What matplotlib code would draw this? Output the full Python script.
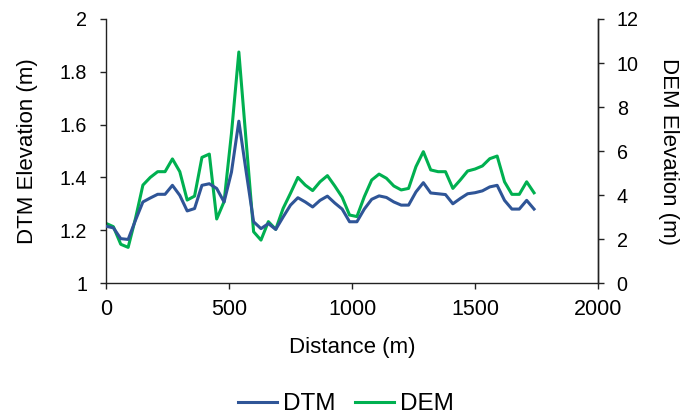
import matplotlib
matplotlib.use("Agg")
import matplotlib.pyplot as plt
from matplotlib.lines import Line2D

plt.rcParams['font.family'] = ['Liberation Sans', 'DejaVu Sans']

distance = [i * 30 for i in range(59)]
dtm = [1.215, 1.209, 1.168, 1.165, 1.238, 1.307, 1.322, 1.336, 1.336, 1.370,
       1.332, 1.273, 1.282, 1.370, 1.376, 1.358, 1.307, 1.420, 1.613, 1.420,
       1.232, 1.206, 1.225, 1.203, 1.250, 1.295, 1.323, 1.307, 1.288, 1.313,
       1.329, 1.303, 1.280, 1.232, 1.232, 1.280, 1.317, 1.330, 1.324, 1.307,
       1.295, 1.295, 1.345, 1.380, 1.341, 1.338, 1.335, 1.300, 1.320, 1.338,
       1.342, 1.349, 1.364, 1.370, 1.313, 1.280, 1.280, 1.313, 1.280]
dem = [2.71, 2.56, 1.76, 1.62, 2.94, 4.45, 4.80, 5.06, 5.06, 5.64,
       5.06, 3.77, 3.95, 5.71, 5.86, 2.91, 3.70, 6.80, 10.50, 6.40,
       2.33, 1.95, 2.79, 2.44, 3.39, 4.08, 4.80, 4.45, 4.20, 4.60,
       4.88, 4.41, 3.90, 3.09, 3.02, 3.92, 4.68, 4.95, 4.76, 4.41,
       4.23, 4.30, 5.29, 5.97, 5.14, 5.06, 5.06, 4.30, 4.68, 5.09,
       5.18, 5.32, 5.65, 5.77, 4.60, 4.03, 4.03, 4.60, 4.10]

blue = '#2F5597'
green = '#00B050'

fig = plt.figure(figsize=(6.92, 4.19), dpi=100)
ax = fig.add_axes([106 / 692, 1 - 283 / 419, (598 - 106) / 692, (283 - 19) / 419])
ax2 = ax.twinx()

ax.plot(distance, dtm, color=blue, lw=2.2, zorder=3)
ax2.plot(distance, dem, color=green, lw=2.2)
ax.set_zorder(ax2.get_zorder() + 1)
ax.patch.set_visible(False)

ax.set_xlim(0, 2000)
ax.set_ylim(1, 2)
ax2.set_ylim(0, 12)
ax.set_xticks([0, 500, 1000, 1500, 2000])
ax.set_yticks([1, 1.2, 1.4, 1.6, 1.8, 2])
ax.set_yticklabels(['1', '1.2', '1.4', '1.6', '1.8', '2'])
ax2.set_yticks([0, 2, 4, 6, 8, 10, 12])

for a in (ax, ax2):
    a.spines['top'].set_visible(False)
    for s in a.spines.values():
        s.set_color('#222222')
        s.set_linewidth(1.0)
    a.tick_params(direction='out', length=4.5, width=1.0, color='#222222')
ax.tick_params(axis='y', labelsize=14.2, pad=9)
ax2.tick_params(axis='y', labelsize=14.2, pad=9)
ax.tick_params(axis='x', labelsize=15.5, pad=7)
ax2.spines['left'].set_visible(False)
ax2.spines['bottom'].set_visible(False)

ax.set_xlabel('Distance (m)', fontsize=16, labelpad=12)
ax.set_ylabel('DTM Elevation (m)', fontsize=16, labelpad=16)
ax2.set_ylabel('DEM Elevation (m)', fontsize=16, rotation=270, labelpad=29)

handles = [Line2D([0], [0], color=blue, lw=2.2), Line2D([0], [0], color=green, lw=2.2)]
fig.legend(handles, ['DTM', 'DEM'], loc='center', bbox_to_anchor=(0.5, 1 - 404 / 419),
           ncol=2, frameon=False, fontsize=17.5, handlelength=1.6,
           handletextpad=0.25, columnspacing=0.8)

fig.savefig('out.png', dpi=100)
